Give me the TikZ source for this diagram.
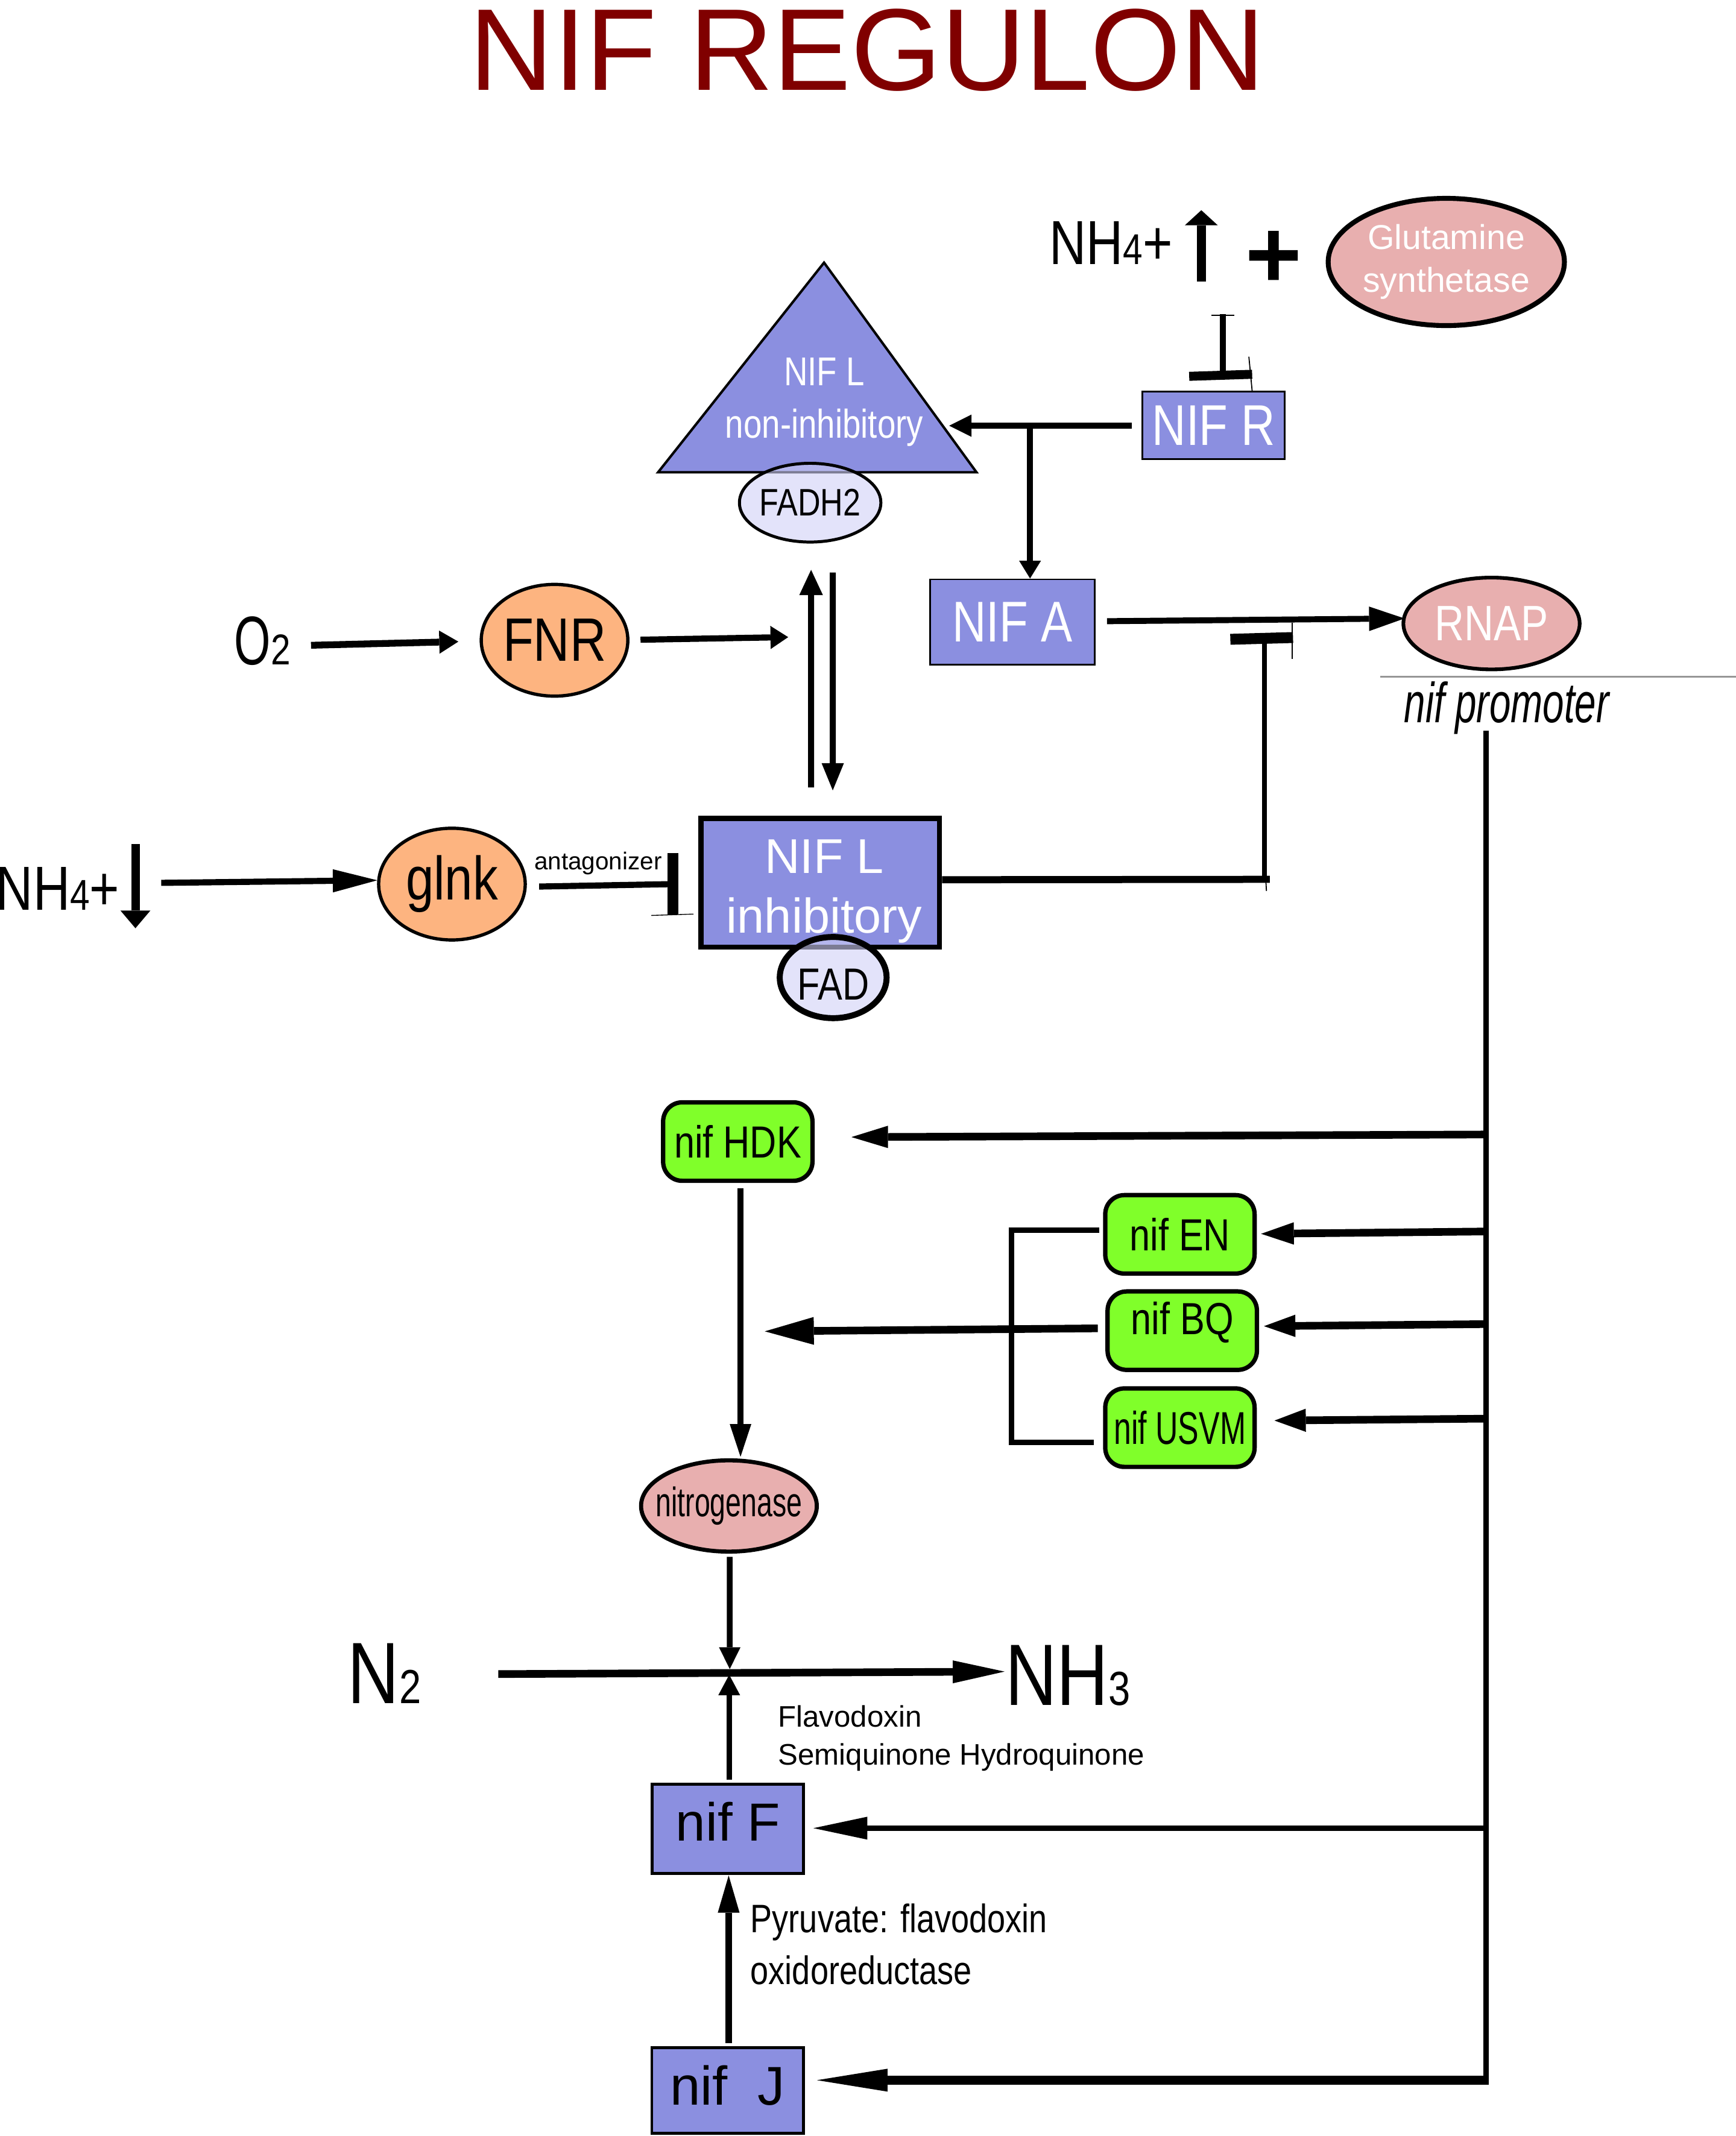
\documentclass[tikz,border=0pt]{standalone}
\usepackage{fontspec}
\setmainfont{Liberation Sans}
\newfontfamily\narrowfont[FakeStretch=0.82]{Liberation Sans}
\newfontfamily\narrowerfont[FakeStretch=0.68]{Liberation Sans}
\usetikzlibrary{shapes.geometric, arrows.meta, calc}
\definecolor{nifblue}{RGB}{139,143,224}
\definecolor{nifgreen}{RGB}{128,255,42}
\definecolor{nifpink}{RGB}{232,175,175}
\definecolor{niforange}{RGB}{253,180,128}
\definecolor{niflav}{RGB}{208,208,247}
\definecolor{titlered}{RGB}{128,0,0}
\definecolor{dnagray}{RGB}{150,150,150}
\newcommand{\fsize}[2]{\fontsize{#1}{#2}\selectfont}
\tikzset{
  protein/.style={rectangle, draw=black, fill=nifblue, inner sep=0pt, line width=0.65mm},
  gene/.style={rectangle, rounded corners=7mm, draw=black, fill=nifgreen, line width=1.6mm, minimum width=54.8mm, minimum height=28.8mm, inner sep=0pt, font=\narrowfont\fsize{47}{47}},
  enzyme/.style={ellipse, draw=black, fill=nifpink, inner sep=0pt},
  sensor/.style={ellipse, draw=black, fill=niforange, line width=1.2mm, minimum width=53.8mm, minimum height=41mm, inner sep=0pt, font=\narrowfont\fsize{64}{64}},
  cofactor/.style={ellipse, draw=black, fill=niflav, fill opacity=0.6, text opacity=1, inner sep=0pt},
  chem/.style={anchor=base west, inner sep=0pt},
  flow/.style 2 args={-{Triangle[length=#1, width=#2, line width=0pt]}}
}
\begin{document}
\begin{tikzpicture}[x=0.5mm, y=-0.5mm]
\useasboundingbox (0,0) rectangle (1274,1568);

% title
\node[anchor=base west, inner sep=0pt, text=titlered, font=\fsize{121.5}{121.5}] (title) at (344.6,66.1) {NIF REGULON};

% ammonium up + glutamine synthetase
\node[chem, font=\narrowfont\fsize{65}{65}] (nhtop) at (770.2,194.1) {NH{\fsize{45}{45}4}+};
\draw[line width=3.2mm, flow={5.5mm}{12mm}] ($(nhtop.base east)+(20.8,12.5)$) -- ++(0,-52.3);
\node[inner sep=0pt, font=\bfseries\fsize{101}{101}] (plus) at (934.9,190.3) {+};
\node[enzyme, line width=1.8mm, minimum width=86.7mm, minimum height=46.7mm, inner xsep=-2mm, text=white, align=center, font=\fsize{36}{44.7}] (glutsyn) at (1061.5,192.3) {Glutamine\\synthetase};

% NIF R
\node[protein, minimum width=52.2mm, minimum height=24.8mm, text=white, font=\narrowfont\fsize{60}{60}] (nifr) at (890.8,312.4) {NIF R};
\coordinate (nhblock) at (897.6,230.6);
\draw[line width=2.2mm] (nhblock) -- ++(0,42.4);
\draw[line width=3.3mm] ($(nifr.north)+(-18,-10.7)$) -- ($(nifr.north)+(28.2,-12.2)$);
\draw[line width=0.3mm] ($(nhblock)+(-8.3,0.8)$) -- ++(16.7,0);
\draw[line width=0.4mm] ($(nifr.north)+(25.8,-25.1)$) -- ($(nifr.north)+(28.2,0)$);

% NIF L non-inhibitory
\draw[fill=nifblue, line width=0.9mm] (483,346.7) coordinate (tribl) -- (604.8,192.8) coordinate (triapex) -- (716.7,346.7) coordinate (tribr) -- cycle;
\node[text=white, align=center, font=\narrowfont\fsize{42}{55}] (nifl) at (605,295.1) {NIF L\\non-inhibitory};
\node[cofactor, line width=1.1mm, minimum width=51.9mm, minimum height=28.9mm, inner xsep=-1mm, font=\narrowfont\fsize{40}{40}] (fadh2) at (594.6,369) {FADH2};
\coordinate (nifledge) at (696.6,312.5);
\draw[line width=2.25mm, flow={8.2mm}{8.2mm}] ($(nifr.west)+(-7.3,0.1)$) -- (nifledge);
\coordinate (split) at (756,312.5);

% NIF A
\node[protein, minimum width=60.4mm, minimum height=31.4mm, text=white, font=\narrowfont\fsize{60}{60}] (nifa) at (743,456.7) {NIF A};
\draw[line width=2.25mm, flow={6.5mm}{8mm}] (split) -- (split |- nifa.north);

% RNAP and promoter
\node[enzyme, line width=1.35mm, minimum width=64.7mm, minimum height=33.7mm, text=white, font=\narrowfont\fsize{52}{52}] (rnap) at (1094.7,457.7) {RNAP};
\draw[line width=2.2mm, flow={13mm}{9mm}] ($(nifa.east)+(8.4,-0.7)$) -- ($(rnap.west)+(2.2,-3.7)$);
\draw[dnagray, line width=0.5mm] (1013,496.8) coordinate (dna) -- (1274,496.8);
\node[chem, font=\narrowerfont\itshape\fsize{59}{59}] (promoter) at (1030.4,530.4) {nif promoter};

% O2 / FNR
\node[chem, font=\narrowerfont\fsize{72}{72}] (otwo) at (172,487.7) {O{\narrowfont\fsize{45}{45}2}};
\node[sensor] (fnr) at (407,470) {FNR};
\draw[line width=2.5mm, flow={7mm}{8.5mm}] ($(otwo.east)+(14.8,3.4)$) -- ($(fnr.west)+(-15.6,1)$);
\coordinate (fnrtip) at (578.5,467.7);
\draw[line width=2.25mm, flow={6.5mm}{8.5mm}] ($(fnr.east)+(8.1,-0.4)$) -- (fnrtip);

% NIF L inhibitory
\node[protein, line width=1.9mm, minimum width=87.5mm, minimum height=47.2mm] (nifli) at (602,648) {};
\node[text=white, align=center, font=\fsize{51}{62}] (niflitext) at (605,654.3) {NIF L\\inhibitory};
\node[cofactor, line width=2.2mm, minimum width=39.2mm, minimum height=29.8mm, text height=16.2mm, text depth=0mm, font=\narrowfont\fsize{47}{47}] (fad) at (611.5,717.6) {FAD};
\draw[line width=2.2mm, flow={9.3mm}{8.7mm}] ($(nifli.north)+(-6.7,-20.9)$) -- ($(fadh2.south)+(0.7,19.3)$);
\draw[line width=2.2mm, flow={10mm}{8.2mm}] ($(fadh2.south)+(16.6,21.3)$) -- ($(nifli.north)+(9.2,-18.7)$);

% NIF L inhibitory blocks NIF A
\coordinate (inhcorner) at (928,645.5);
\coordinate (inhtop) at (928,468.7);
\draw[line width=2.6mm] ($(nifli.east)+(0,-2.2)$) -- ($(inhcorner)+(4,0)$);
\draw[line width=1.8mm] (inhcorner) -- (inhtop);
\draw[line width=4mm] ($(inhtop)+(-25,0.6)$) -- ($(inhtop)+(21,-0.7)$);
\draw[line width=0.4mm] ($(inhtop)+(20.4,-11.4)$) -- ($(inhtop)+(20.4,15.1)$);
\draw[line width=0.4mm] ($(inhcorner)+(1,0)$) -- ($(inhcorner)+(1.5,8.5)$);

% ammonium down / glnk
\node[chem, font=\narrowfont\fsize{65}{65}] (nhleft) at (-2.8,668.1) {NH{\fsize{45}{45}4}+};
\draw[line width=3.1mm, flow={6.5mm}{11mm}] ($(nhleft.base east)+(11.5,-48.4)$) -- ++(0,61.7);
\node[sensor] (glnk) at (331.7,649) {glnk};
\draw[line width=2.25mm, flow={16.3mm}{8.5mm}] ($(nhleft.east)+(30.4,-4.3)$) -- ($(glnk.west)+(0.2,-2.8)$);
\coordinate (glnkbar) at (493.8,649);
\draw[line width=2.25mm] ($(glnk.east)+(9,1.8)$) -- (glnkbar);
\draw[line width=4mm] ($(glnkbar)+(0,-22.6)$) -- ($(glnkbar)+(0,22.5)$);
\draw[line width=0.3mm] ($(glnkbar)+(-15.8,23)$) -- ($(glnkbar)+(15.2,22)$);
\node[anchor=base, inner sep=0pt, font=\fsize{25.5}{25.5}] (antag) at (439,638.3) {antagonizer};

% nif genes
\node[gene] (nifhdk) at (541.5,838) {nif HDK};
\node[gene] (nifen) at (866,906.1) {nif EN};
\node[gene, text height=13mm, text depth=10.2mm] (nifbq) at (867.7,976.8) {nif BQ};
\node[gene, font=\narrowerfont\fsize{48}{48}] (nifusvm) at (866,1048) {nif USVM};

% promoter trunk
\coordinate (trunktop) at (1090.6,536.2);
\coordinate (bhdk) at (1090.6,832.8);
\coordinate (ben) at (1090.6,904);
\coordinate (bbq) at (1090.6,972);
\coordinate (busvm) at (1090.6,1041.4);
\coordinate (bniff) at (1090.6,1342);
\coordinate (bnifj) at (1090.6,1527);
\draw[line width=2.1mm] (trunktop) -- ($(bnifj)+(0,3.3)$);
\draw[line width=2.8mm, flow={13.4mm}{8.2mm}] (bhdk) -- ($(nifhdk.east)+(27,-3.3)$);
\draw[line width=2.8mm, flow={12mm}{8.2mm}] (ben) -- ($(nifen.east)+(3.2,-0.4)$);
\draw[line width=2.8mm, flow={11.5mm}{8.2mm}] (bbq) -- ($(nifbq.east)+(3.6,-3.3)$);
\draw[line width=2.8mm, flow={11.5mm}{8.5mm}] (busvm) -- ($(nifusvm.east)+(13,-5.2)$);

% EN / BQ / USVM bracket
\draw[line width=2mm] ($(nifen.west)+(-2.6,-3.1)$) -- ++(-64.4,0) |- ($(nifusvm.west)+(-6.9,10.8)$);
\coordinate (bqtip) at (561.3,977.3);
\draw[line width=2.8mm, flow={18mm}{10.2mm}] ($(nifbq.west)+(-5.6,-1.7)$) -- (bqtip);

% nitrogenase reaction
\node[enzyme, line width=1.5mm, minimum width=64.5mm, minimum height=33.5mm, inner xsep=-8mm, font=\narrowerfont\fsize{43}{43}] (nitrogenase) at (535,1105.5) {nitrogenase\hspace{5.5mm}};
\draw[line width=2.3mm, flow={12mm}{7.9mm}] ($(nifhdk.south)+(2,4.1)$) -- ($(nitrogenase.north)+(8.5,-1.1)$);
\node[chem, font=\narrowfont\fsize{91}{91}] (ntwo) at (255,1250.4) {N{\fsize{50}{50}2}};
\node[chem, font=\narrowfont\fsize{91}{91}] (nhthree) at (737.7,1251.8) {NH{\fsize{50}{50}3}};
\coordinate (fix) at (535.5,1227.3);
\draw[line width=2.8mm, flow={19mm}{8.4mm}] ($(ntwo.east)+(56.5,0.5)$) -- ($(nhthree.west)+(-0.4,-2.9)$);
\draw[line width=2.1mm, flow={8mm}{7.9mm}] ($(nitrogenase.south)+(0.6,2.3)$) -- ($(fix)+(0.1,-2.1)$);
\node[anchor=north west, inner sep=0pt, align=left, font=\fsize{31}{40}] (flavodoxin) at (571,1251.6) {Flavodoxin\\Semiquinone Hydroquinone};

% nif F and nif J
\node[protein, line width=1.1mm, minimum width=55.6mm, minimum height=32.7mm, text height=14.4mm, text depth=5.3mm, font=\fsize{56}{56}] (niff) at (534.3,1342.4) {nif F};
\draw[line width=2.1mm, flow={7.5mm}{8mm}] ($(niff.north)+(0.9,-2)$) -- ($(fix)+(-0.3,2.1)$);
\draw[line width=2.1mm, flow={19.8mm}{8.4mm}] (bniff) -- ($(niff.east)+(6,-0.4)$);
\node[protein, line width=1.1mm, minimum width=55.6mm, minimum height=31.4mm, text height=14.6mm, text depth=4.1mm, font=\fsize{57}{57}] (nifj) at (534,1534.5) {nif~~J};
\draw[line width=2.3mm, flow={13.7mm}{8mm}] ($(nifj.north)+(0.8,-2.3)$) -- ($(niff.south)+(0.5,0.5)$);
\draw[line width=3.3mm, flow={25.9mm}{8.4mm}] (bnifj) -- ($(nifj.east)+(8.9,-7.5)$);
\node[anchor=north west, inner sep=0pt, align=left, font=\narrowfont\fsize{41.5}{53.8}] (pfor) at (550.8,1397.5) {Pyruvate: flavodoxin\\oxidoreductase};

\end{tikzpicture}
\end{document}
